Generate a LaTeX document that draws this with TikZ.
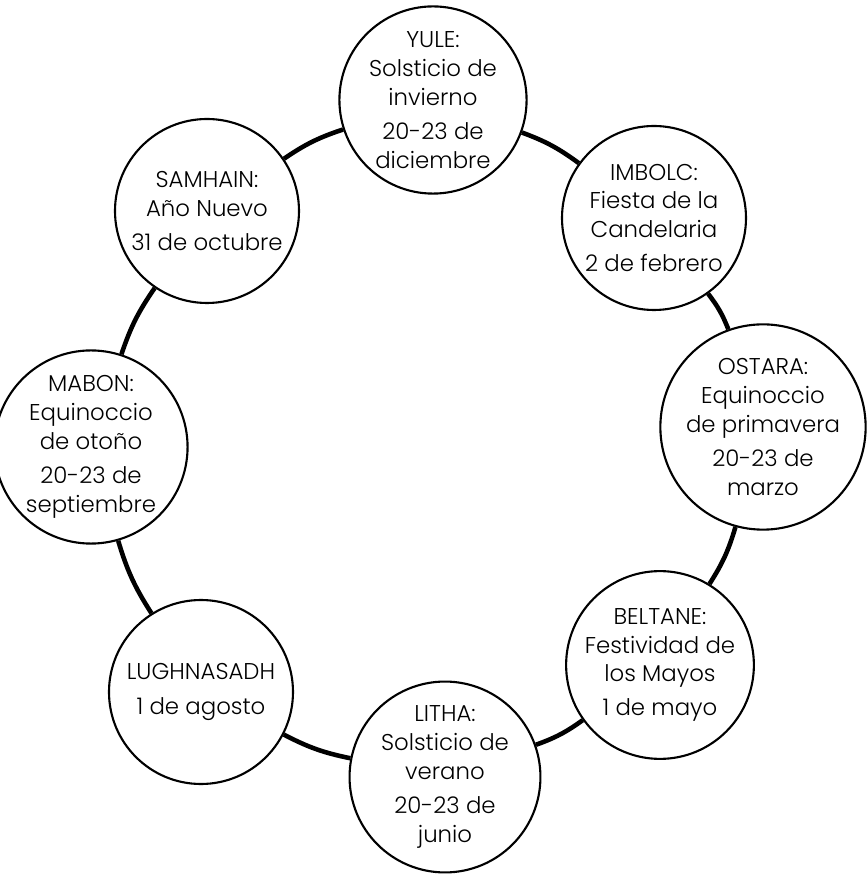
\documentclass[tikz,border=0pt]{standalone}
\usepackage{fontspec}
\setmainfont{Poppins}[UprightFont=* Light]
\usepackage{tikz}
\tikzstyle{every node}=[draw=black,line width=1.2pt,circle,fill=white,minimum size=3.68cm,inner sep=0pt,align=center,font=\fontsize{13}{16.4}\selectfont]
\tikzstyle{ring}=[line width=2.6pt,black]

\begin{document}
\begin{tikzpicture}
          \useasboundingbox (-8.64,-8.66) rectangle (8.72,8.84);
          \node (S1) at (0.02,6.84)   {YULE:\\Solsticio de\\invierno\\[3pt]20-23 de\\diciembre};
          \node (S2) at (4.44,4.48)   {IMBOLC:\\Fiesta de la\\Candelaria\\[3pt]2 de febrero};
          \node (S3) at (6.62,0.30)   {OSTARA:\\Equinoccio\\de primavera\\[3pt]20-23 de\\marzo};
          \node (S4) at (4.56,-4.46)  {BELTANE:\\Festividad de\\los Mayos\\[3pt]1 de mayo};
          \node (S5) at (0.26,-6.70)  {LITHA:\\Solsticio de\\verano\\[3pt]20-23 de\\junio};
          \node (S6) at (-4.62,-5.00) {LUGHNASADH\\[3pt]1 de agosto};
          \node (S7) at (-6.82,-0.10) {MABON:\\Equinoccio\\de otoño\\[3pt]20-23 de\\septiembre};
          \node (S8) at (-4.50,4.62)  {SAMHAIN:\\Año Nuevo\\[3pt]31 de octubre};
	    \path[ring] (S1) edge[bend left=8] (S2);
	    \path[ring] (S2) edge[bend left=8] (S3);
	    \path[ring] (S3) edge[bend left=8] (S4);
	    \path[ring] (S4) edge[bend left=8] (S5);
	    \path[ring] (S5) edge[bend left=8] (S6);
	    \path[ring] (S6) edge[bend left=8] (S7);
	    \path[ring] (S7) edge[bend left=8] (S8);
	    \path[ring] (S8) edge[bend left=8] (S1);
        \end{tikzpicture}
\end{document}
